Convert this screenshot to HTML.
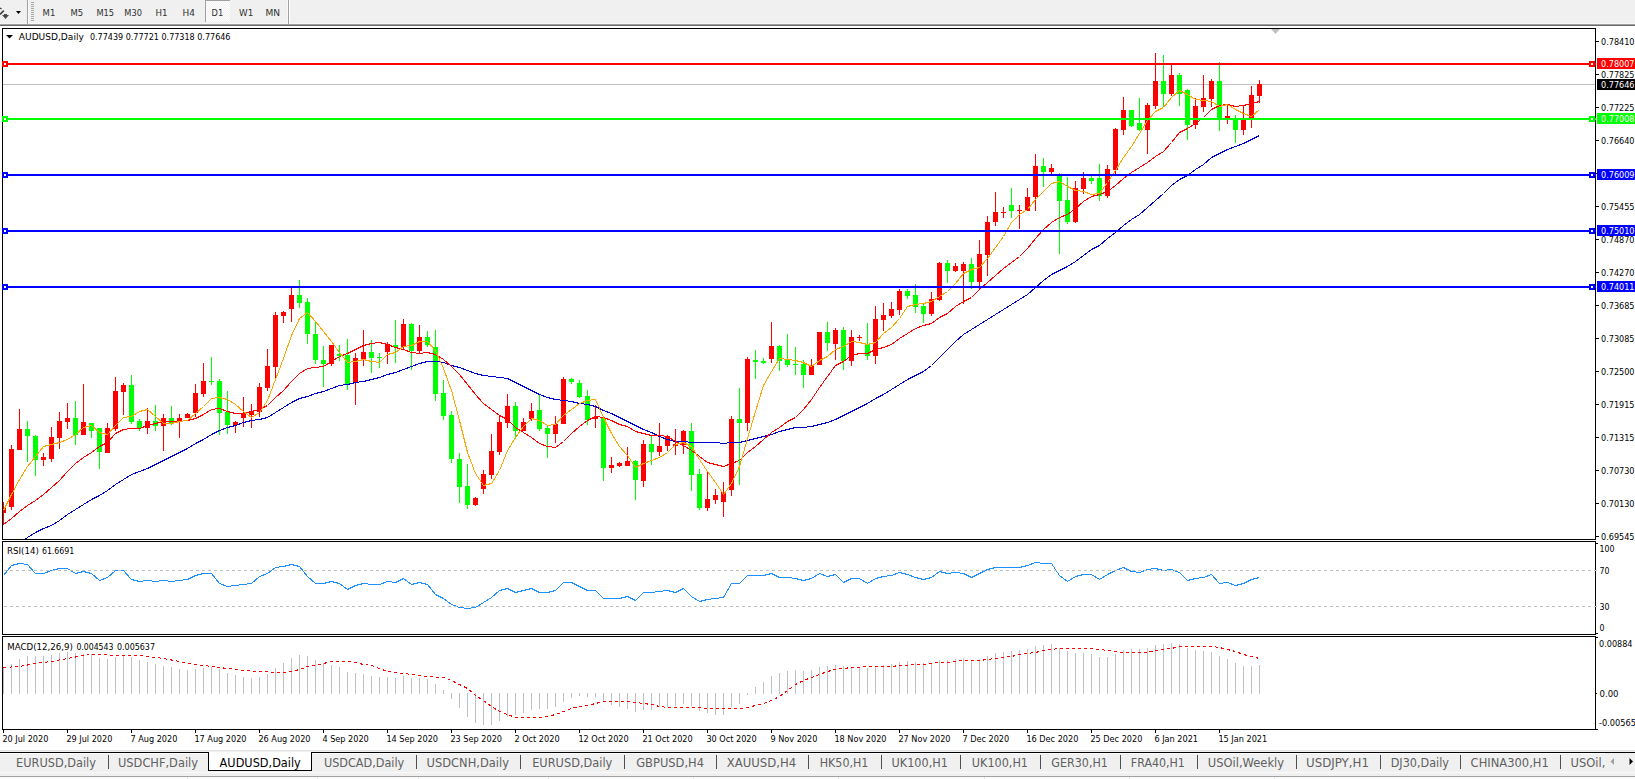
<!DOCTYPE html>
<html><head><meta charset="utf-8"><title>AUDUSD,Daily</title>
<style>html,body{margin:0;padding:0;background:#fff;}body{width:1635px;height:779px;overflow:hidden;}svg{display:block;}</style>
</head><body>
<svg width="1635" height="779" viewBox="0 0 1635 779">
<rect x="0" y="0" width="1635" height="779" fill="#ffffff"/>
<g shape-rendering="crispEdges">
<rect x="0" y="0" width="1635" height="24" fill="#f0f0f0"/>
<rect x="0" y="23" width="1635" height="1" fill="#f7f7f7"/>
<rect x="0" y="24" width="1635" height="1" fill="#a0a0a0"/>
<rect x="0" y="25" width="1635" height="1" fill="#6a6a6a"/>
<rect x="27" y="0" width="1" height="24" fill="#a0a0a0"/><rect x="28" y="0" width="1" height="24" fill="#ffffff"/>
<rect x="288" y="0" width="1" height="24" fill="#a0a0a0"/><rect x="289" y="0" width="1" height="24" fill="#ffffff"/><rect x="287" y="0" width="1" height="23" fill="#f8f8f8"/>
<rect x="31" y="2" width="3" height="1" fill="#a8a8a8"/>
<rect x="31" y="4" width="3" height="1" fill="#a8a8a8"/>
<rect x="31" y="6" width="3" height="1" fill="#a8a8a8"/>
<rect x="31" y="8" width="3" height="1" fill="#a8a8a8"/>
<rect x="31" y="10" width="3" height="1" fill="#a8a8a8"/>
<rect x="31" y="12" width="3" height="1" fill="#a8a8a8"/>
<rect x="31" y="14" width="3" height="1" fill="#a8a8a8"/>
<rect x="31" y="16" width="3" height="1" fill="#a8a8a8"/>
<rect x="31" y="18" width="3" height="1" fill="#a8a8a8"/>
<rect x="31" y="20" width="3" height="1" fill="#a8a8a8"/>
<defs><pattern id="dith" x="0" y="0" width="2" height="2" patternUnits="userSpaceOnUse"><rect width="2" height="2" fill="#f0f0f0"/><rect width="1" height="1" fill="#ffffff"/><rect x="1" y="1" width="1" height="1" fill="#ffffff"/></pattern></defs>
<rect x="206" y="1" width="24" height="21" fill="url(#dith)"/>
<rect x="205" y="0" width="25" height="1" fill="#a0a0a0"/><rect x="205" y="0" width="1" height="22" fill="#a0a0a0"/>
</g>
<path d="M0,14.5 L3.8,10.6" stroke="#3c3c3c" stroke-width="1.6" fill="none"/>
<path d="M0,8 L1.6,9" stroke="#3c3c3c" stroke-width="1.2" fill="none"/>
<path d="M2,15 L9,15 L5.5,19 Z M4,14 L7,14 L7,15 L4,15Z" fill="#4a4a4a"/>
<path d="M16,11 L21,11 L18.5,14 Z" fill="#000"/>
<text x="42.6" y="15.8" style="font-family:'DejaVu Sans','Liberation Sans',sans-serif;font-stretch:condensed;font-size:9.2px" fill="#303030" textLength="12.7" lengthAdjust="spacingAndGlyphs">M1</text>
<text x="70.5" y="15.8" style="font-family:'DejaVu Sans','Liberation Sans',sans-serif;font-stretch:condensed;font-size:9.2px" fill="#303030" textLength="12.7" lengthAdjust="spacingAndGlyphs">M5</text>
<text x="96.4" y="15.8" style="font-family:'DejaVu Sans','Liberation Sans',sans-serif;font-stretch:condensed;font-size:9.2px" fill="#303030" textLength="17.6" lengthAdjust="spacingAndGlyphs">M15</text>
<text x="124.3" y="15.8" style="font-family:'DejaVu Sans','Liberation Sans',sans-serif;font-stretch:condensed;font-size:9.2px" fill="#303030" textLength="17.6" lengthAdjust="spacingAndGlyphs">M30</text>
<text x="155.4" y="15.8" style="font-family:'DejaVu Sans','Liberation Sans',sans-serif;font-stretch:condensed;font-size:9.2px" fill="#303030" textLength="12" lengthAdjust="spacingAndGlyphs">H1</text>
<text x="182.6" y="15.8" style="font-family:'DejaVu Sans','Liberation Sans',sans-serif;font-stretch:condensed;font-size:9.2px" fill="#303030" textLength="12.4" lengthAdjust="spacingAndGlyphs">H4</text>
<text x="211.6" y="15.8" style="font-family:'DejaVu Sans','Liberation Sans',sans-serif;font-stretch:condensed;font-size:9.2px" fill="#303030" textLength="11.6" lengthAdjust="spacingAndGlyphs">D1</text>
<text x="239" y="15.8" style="font-family:'DejaVu Sans','Liberation Sans',sans-serif;font-stretch:condensed;font-size:9.2px" fill="#303030" textLength="14.2" lengthAdjust="spacingAndGlyphs">W1</text>
<text x="265.5" y="15.8" style="font-family:'DejaVu Sans','Liberation Sans',sans-serif;font-stretch:condensed;font-size:9.2px" fill="#303030" textLength="14.6" lengthAdjust="spacingAndGlyphs">MN</text>
<g shape-rendering="crispEdges" fill="none" stroke="#000" stroke-width="1">
<rect x="2.5" y="28.5" width="1593" height="511"/>
<rect x="2.5" y="541.5" width="1593" height="93"/>
<rect x="2.5" y="636.5" width="1593" height="93"/>
</g>
<defs><clipPath id="cm"><rect x="3" y="29" width="1592" height="510"/></clipPath><clipPath id="cr"><rect x="3" y="542" width="1592" height="92"/></clipPath><clipPath id="cd"><rect x="3" y="637" width="1592" height="92"/></clipPath></defs>
<g clip-path="url(#cm)">
<path d="M1271,29 L1280,29 L1275.5,34 Z" fill="#c0c0c0"/>
<rect x="3" y="84" width="1592" height="1" fill="#c0c0c0" shape-rendering="crispEdges"/>
<g shape-rendering="crispEdges">
<rect x="3" y="502" width="1" height="22" fill="#ff0000"/>
<rect x="1" y="508" width="5" height="5" fill="#ff0000"/>
<rect x="11" y="445" width="1" height="65" fill="#ff0000"/>
<rect x="9" y="449" width="5" height="58" fill="#ff0000"/>
<rect x="19" y="409" width="1" height="41" fill="#ff0000"/>
<rect x="17" y="429" width="5" height="21" fill="#ff0000"/>
<rect x="27" y="421" width="1" height="41" fill="#00ff00"/>
<rect x="25" y="429" width="5" height="7" fill="#00ff00"/>
<rect x="35" y="435" width="1" height="41" fill="#00ff00"/>
<rect x="33" y="436" width="5" height="24" fill="#00ff00"/>
<rect x="43" y="453" width="1" height="13" fill="#ff0000"/>
<rect x="41" y="457" width="5" height="3" fill="#ff0000"/>
<rect x="51" y="427" width="1" height="35" fill="#ff0000"/>
<rect x="49" y="437" width="5" height="22" fill="#ff0000"/>
<rect x="59" y="412" width="1" height="37" fill="#ff0000"/>
<rect x="57" y="421" width="5" height="17" fill="#ff0000"/>
<rect x="67" y="403" width="1" height="26" fill="#ff0000"/>
<rect x="65" y="418" width="5" height="4" fill="#ff0000"/>
<rect x="75" y="401" width="1" height="44" fill="#00ff00"/>
<rect x="73" y="418" width="5" height="17" fill="#00ff00"/>
<rect x="83" y="384" width="1" height="51" fill="#ff0000"/>
<rect x="81" y="422" width="5" height="13" fill="#ff0000"/>
<rect x="91" y="423" width="1" height="15" fill="#00ff00"/>
<rect x="89" y="423" width="5" height="8" fill="#00ff00"/>
<rect x="99" y="428" width="1" height="41" fill="#00ff00"/>
<rect x="97" y="428" width="5" height="24" fill="#00ff00"/>
<rect x="107" y="423" width="1" height="30" fill="#ff0000"/>
<rect x="105" y="428" width="5" height="25" fill="#ff0000"/>
<rect x="115" y="377" width="1" height="54" fill="#ff0000"/>
<rect x="113" y="391" width="5" height="38" fill="#ff0000"/>
<rect x="123" y="383" width="1" height="32" fill="#ff0000"/>
<rect x="121" y="385" width="5" height="7" fill="#ff0000"/>
<rect x="131" y="375" width="1" height="49" fill="#00ff00"/>
<rect x="129" y="385" width="5" height="37" fill="#00ff00"/>
<rect x="139" y="419" width="1" height="12" fill="#00ff00"/>
<rect x="137" y="421" width="5" height="7" fill="#00ff00"/>
<rect x="147" y="408" width="1" height="26" fill="#ff0000"/>
<rect x="145" y="421" width="5" height="7" fill="#ff0000"/>
<rect x="155" y="405" width="1" height="26" fill="#00ff00"/>
<rect x="153" y="421" width="5" height="5" fill="#00ff00"/>
<rect x="163" y="414" width="1" height="37" fill="#ff0000"/>
<rect x="161" y="418" width="5" height="8" fill="#ff0000"/>
<rect x="171" y="406" width="1" height="19" fill="#00ff00"/>
<rect x="169" y="418" width="5" height="5" fill="#00ff00"/>
<rect x="179" y="414" width="1" height="24" fill="#ff0000"/>
<rect x="177" y="418" width="5" height="4" fill="#ff0000"/>
<rect x="187" y="413" width="1" height="5" fill="#ff0000"/>
<rect x="185" y="414" width="5" height="4" fill="#ff0000"/>
<rect x="195" y="384" width="1" height="33" fill="#ff0000"/>
<rect x="193" y="393" width="5" height="20" fill="#ff0000"/>
<rect x="203" y="363" width="1" height="34" fill="#ff0000"/>
<rect x="201" y="381" width="5" height="13" fill="#ff0000"/>
<rect x="211" y="357" width="1" height="28" fill="#00ff00"/>
<rect x="209" y="381" width="5" height="1" fill="#00ff00"/>
<rect x="219" y="379" width="1" height="56" fill="#00ff00"/>
<rect x="217" y="381" width="5" height="32" fill="#00ff00"/>
<rect x="227" y="391" width="1" height="43" fill="#00ff00"/>
<rect x="225" y="412" width="5" height="13" fill="#00ff00"/>
<rect x="235" y="421" width="1" height="12" fill="#ff0000"/>
<rect x="233" y="422" width="5" height="3" fill="#ff0000"/>
<rect x="243" y="397" width="1" height="30" fill="#ff0000"/>
<rect x="241" y="414" width="5" height="4" fill="#ff0000"/>
<rect x="251" y="404" width="1" height="24" fill="#ff0000"/>
<rect x="249" y="411" width="5" height="4" fill="#ff0000"/>
<rect x="259" y="383" width="1" height="34" fill="#ff0000"/>
<rect x="257" y="387" width="5" height="25" fill="#ff0000"/>
<rect x="267" y="349" width="1" height="42" fill="#ff0000"/>
<rect x="265" y="366" width="5" height="22" fill="#ff0000"/>
<rect x="275" y="312" width="1" height="66" fill="#ff0000"/>
<rect x="273" y="315" width="5" height="52" fill="#ff0000"/>
<rect x="283" y="311" width="1" height="12" fill="#ff0000"/>
<rect x="281" y="312" width="5" height="4" fill="#ff0000"/>
<rect x="291" y="287" width="1" height="35" fill="#ff0000"/>
<rect x="289" y="295" width="5" height="14" fill="#ff0000"/>
<rect x="299" y="280" width="1" height="28" fill="#00ff00"/>
<rect x="297" y="295" width="5" height="8" fill="#00ff00"/>
<rect x="307" y="298" width="1" height="46" fill="#00ff00"/>
<rect x="305" y="302" width="5" height="32" fill="#00ff00"/>
<rect x="315" y="322" width="1" height="42" fill="#00ff00"/>
<rect x="313" y="334" width="5" height="26" fill="#00ff00"/>
<rect x="323" y="346" width="1" height="41" fill="#00ff00"/>
<rect x="321" y="360" width="5" height="4" fill="#00ff00"/>
<rect x="331" y="345" width="1" height="21" fill="#ff0000"/>
<rect x="329" y="345" width="5" height="19" fill="#ff0000"/>
<rect x="339" y="345" width="1" height="16" fill="#00ff00"/>
<rect x="337" y="354" width="5" height="2" fill="#00ff00"/>
<rect x="347" y="339" width="1" height="51" fill="#00ff00"/>
<rect x="345" y="355" width="5" height="29" fill="#00ff00"/>
<rect x="355" y="353" width="1" height="52" fill="#ff0000"/>
<rect x="353" y="358" width="5" height="25" fill="#ff0000"/>
<rect x="363" y="330" width="1" height="36" fill="#ff0000"/>
<rect x="361" y="352" width="5" height="7" fill="#ff0000"/>
<rect x="371" y="340" width="1" height="33" fill="#00ff00"/>
<rect x="369" y="352" width="5" height="6" fill="#00ff00"/>
<rect x="379" y="353" width="1" height="15" fill="#00ff00"/>
<rect x="377" y="357" width="5" height="1" fill="#00ff00"/>
<rect x="387" y="342" width="1" height="22" fill="#ff0000"/>
<rect x="385" y="344" width="5" height="8" fill="#ff0000"/>
<rect x="395" y="320" width="1" height="43" fill="#00ff00"/>
<rect x="393" y="345" width="5" height="2" fill="#00ff00"/>
<rect x="403" y="319" width="1" height="31" fill="#ff0000"/>
<rect x="401" y="324" width="5" height="23" fill="#ff0000"/>
<rect x="411" y="323" width="1" height="47" fill="#00ff00"/>
<rect x="409" y="324" width="5" height="27" fill="#00ff00"/>
<rect x="419" y="325" width="1" height="29" fill="#ff0000"/>
<rect x="417" y="337" width="5" height="14" fill="#ff0000"/>
<rect x="427" y="331" width="1" height="16" fill="#00ff00"/>
<rect x="425" y="337" width="5" height="8" fill="#00ff00"/>
<rect x="435" y="330" width="1" height="71" fill="#00ff00"/>
<rect x="433" y="347" width="5" height="47" fill="#00ff00"/>
<rect x="443" y="380" width="1" height="40" fill="#00ff00"/>
<rect x="441" y="393" width="5" height="23" fill="#00ff00"/>
<rect x="451" y="411" width="1" height="52" fill="#00ff00"/>
<rect x="449" y="415" width="5" height="44" fill="#00ff00"/>
<rect x="459" y="453" width="1" height="50" fill="#00ff00"/>
<rect x="457" y="459" width="5" height="28" fill="#00ff00"/>
<rect x="467" y="464" width="1" height="45" fill="#00ff00"/>
<rect x="465" y="486" width="5" height="19" fill="#00ff00"/>
<rect x="475" y="497" width="1" height="9" fill="#ff0000"/>
<rect x="473" y="498" width="5" height="7" fill="#ff0000"/>
<rect x="483" y="470" width="1" height="24" fill="#ff0000"/>
<rect x="481" y="474" width="5" height="15" fill="#ff0000"/>
<rect x="491" y="434" width="1" height="45" fill="#ff0000"/>
<rect x="489" y="451" width="5" height="24" fill="#ff0000"/>
<rect x="499" y="415" width="1" height="40" fill="#ff0000"/>
<rect x="497" y="422" width="5" height="30" fill="#ff0000"/>
<rect x="507" y="394" width="1" height="34" fill="#ff0000"/>
<rect x="505" y="406" width="5" height="17" fill="#ff0000"/>
<rect x="515" y="402" width="1" height="37" fill="#00ff00"/>
<rect x="513" y="406" width="5" height="25" fill="#00ff00"/>
<rect x="523" y="418" width="1" height="13" fill="#ff0000"/>
<rect x="521" y="422" width="5" height="9" fill="#ff0000"/>
<rect x="531" y="403" width="1" height="18" fill="#ff0000"/>
<rect x="529" y="411" width="5" height="8" fill="#ff0000"/>
<rect x="539" y="395" width="1" height="36" fill="#00ff00"/>
<rect x="537" y="410" width="5" height="19" fill="#00ff00"/>
<rect x="547" y="425" width="1" height="33" fill="#00ff00"/>
<rect x="545" y="428" width="5" height="6" fill="#00ff00"/>
<rect x="555" y="416" width="1" height="27" fill="#ff0000"/>
<rect x="553" y="424" width="5" height="10" fill="#ff0000"/>
<rect x="563" y="377" width="1" height="47" fill="#ff0000"/>
<rect x="561" y="379" width="5" height="45" fill="#ff0000"/>
<rect x="571" y="378" width="1" height="6" fill="#00ff00"/>
<rect x="569" y="379" width="5" height="3" fill="#00ff00"/>
<rect x="579" y="380" width="1" height="18" fill="#00ff00"/>
<rect x="577" y="383" width="5" height="14" fill="#00ff00"/>
<rect x="587" y="390" width="1" height="35" fill="#00ff00"/>
<rect x="585" y="396" width="5" height="24" fill="#00ff00"/>
<rect x="595" y="405" width="1" height="23" fill="#ff0000"/>
<rect x="593" y="417" width="5" height="2" fill="#ff0000"/>
<rect x="603" y="417" width="1" height="64" fill="#00ff00"/>
<rect x="601" y="418" width="5" height="50" fill="#00ff00"/>
<rect x="611" y="457" width="1" height="16" fill="#ff0000"/>
<rect x="609" y="465" width="5" height="3" fill="#ff0000"/>
<rect x="619" y="462" width="1" height="5" fill="#ff0000"/>
<rect x="617" y="463" width="5" height="3" fill="#ff0000"/>
<rect x="627" y="447" width="1" height="19" fill="#ff0000"/>
<rect x="625" y="461" width="5" height="5" fill="#ff0000"/>
<rect x="635" y="460" width="1" height="40" fill="#00ff00"/>
<rect x="633" y="461" width="5" height="19" fill="#00ff00"/>
<rect x="643" y="440" width="1" height="47" fill="#ff0000"/>
<rect x="641" y="444" width="5" height="37" fill="#ff0000"/>
<rect x="651" y="435" width="1" height="30" fill="#00ff00"/>
<rect x="649" y="444" width="5" height="8" fill="#00ff00"/>
<rect x="659" y="423" width="1" height="33" fill="#ff0000"/>
<rect x="657" y="446" width="5" height="6" fill="#ff0000"/>
<rect x="667" y="435" width="1" height="16" fill="#ff0000"/>
<rect x="665" y="436" width="5" height="10" fill="#ff0000"/>
<rect x="675" y="429" width="1" height="26" fill="#ff0000"/>
<rect x="673" y="444" width="5" height="2" fill="#ff0000"/>
<rect x="683" y="430" width="1" height="24" fill="#ff0000"/>
<rect x="681" y="431" width="5" height="14" fill="#ff0000"/>
<rect x="691" y="423" width="1" height="68" fill="#00ff00"/>
<rect x="689" y="431" width="5" height="44" fill="#00ff00"/>
<rect x="699" y="469" width="1" height="41" fill="#00ff00"/>
<rect x="697" y="474" width="5" height="34" fill="#00ff00"/>
<rect x="707" y="472" width="1" height="39" fill="#ff0000"/>
<rect x="705" y="499" width="5" height="9" fill="#ff0000"/>
<rect x="715" y="489" width="1" height="15" fill="#ff0000"/>
<rect x="713" y="495" width="5" height="5" fill="#ff0000"/>
<rect x="723" y="482" width="1" height="35" fill="#ff0000"/>
<rect x="721" y="492" width="5" height="10" fill="#ff0000"/>
<rect x="731" y="416" width="1" height="80" fill="#ff0000"/>
<rect x="729" y="419" width="5" height="71" fill="#ff0000"/>
<rect x="739" y="388" width="1" height="97" fill="#00ff00"/>
<rect x="737" y="419" width="5" height="4" fill="#00ff00"/>
<rect x="747" y="357" width="1" height="74" fill="#ff0000"/>
<rect x="745" y="359" width="5" height="64" fill="#ff0000"/>
<rect x="755" y="350" width="1" height="29" fill="#00ff00"/>
<rect x="753" y="360" width="5" height="2" fill="#00ff00"/>
<rect x="763" y="358" width="1" height="6" fill="#00ff00"/>
<rect x="761" y="361" width="5" height="2" fill="#00ff00"/>
<rect x="771" y="322" width="1" height="41" fill="#ff0000"/>
<rect x="769" y="346" width="5" height="13" fill="#ff0000"/>
<rect x="779" y="345" width="1" height="26" fill="#00ff00"/>
<rect x="777" y="346" width="5" height="15" fill="#00ff00"/>
<rect x="787" y="334" width="1" height="33" fill="#00ff00"/>
<rect x="785" y="360" width="5" height="5" fill="#00ff00"/>
<rect x="795" y="347" width="1" height="28" fill="#00ff00"/>
<rect x="793" y="364" width="5" height="1" fill="#00ff00"/>
<rect x="803" y="360" width="1" height="28" fill="#00ff00"/>
<rect x="801" y="364" width="5" height="11" fill="#00ff00"/>
<rect x="811" y="359" width="1" height="16" fill="#ff0000"/>
<rect x="809" y="365" width="5" height="10" fill="#ff0000"/>
<rect x="819" y="332" width="1" height="33" fill="#ff0000"/>
<rect x="817" y="332" width="5" height="33" fill="#ff0000"/>
<rect x="827" y="322" width="1" height="29" fill="#00ff00"/>
<rect x="825" y="332" width="5" height="11" fill="#00ff00"/>
<rect x="835" y="328" width="1" height="32" fill="#ff0000"/>
<rect x="833" y="330" width="5" height="14" fill="#ff0000"/>
<rect x="843" y="327" width="1" height="43" fill="#00ff00"/>
<rect x="841" y="330" width="5" height="31" fill="#00ff00"/>
<rect x="851" y="330" width="1" height="36" fill="#ff0000"/>
<rect x="849" y="337" width="5" height="24" fill="#ff0000"/>
<rect x="859" y="335" width="1" height="6" fill="#ff0000"/>
<rect x="857" y="337" width="5" height="1" fill="#ff0000"/>
<rect x="867" y="323" width="1" height="37" fill="#00ff00"/>
<rect x="865" y="344" width="5" height="12" fill="#00ff00"/>
<rect x="875" y="306" width="1" height="58" fill="#ff0000"/>
<rect x="873" y="319" width="5" height="37" fill="#ff0000"/>
<rect x="883" y="303" width="1" height="28" fill="#ff0000"/>
<rect x="881" y="315" width="5" height="5" fill="#ff0000"/>
<rect x="891" y="302" width="1" height="16" fill="#ff0000"/>
<rect x="889" y="309" width="5" height="7" fill="#ff0000"/>
<rect x="899" y="289" width="1" height="26" fill="#ff0000"/>
<rect x="897" y="291" width="5" height="19" fill="#ff0000"/>
<rect x="907" y="289" width="1" height="10" fill="#00ff00"/>
<rect x="905" y="291" width="5" height="5" fill="#00ff00"/>
<rect x="915" y="284" width="1" height="29" fill="#00ff00"/>
<rect x="913" y="295" width="5" height="12" fill="#00ff00"/>
<rect x="923" y="304" width="1" height="19" fill="#00ff00"/>
<rect x="921" y="306" width="5" height="8" fill="#00ff00"/>
<rect x="931" y="292" width="1" height="24" fill="#ff0000"/>
<rect x="929" y="299" width="5" height="15" fill="#ff0000"/>
<rect x="939" y="262" width="1" height="39" fill="#ff0000"/>
<rect x="937" y="263" width="5" height="37" fill="#ff0000"/>
<rect x="947" y="260" width="1" height="23" fill="#00ff00"/>
<rect x="945" y="263" width="5" height="8" fill="#00ff00"/>
<rect x="955" y="263" width="1" height="9" fill="#ff0000"/>
<rect x="953" y="266" width="5" height="5" fill="#ff0000"/>
<rect x="963" y="262" width="1" height="42" fill="#ff0000"/>
<rect x="961" y="264" width="5" height="7" fill="#ff0000"/>
<rect x="971" y="258" width="1" height="31" fill="#00ff00"/>
<rect x="969" y="264" width="5" height="18" fill="#00ff00"/>
<rect x="979" y="240" width="1" height="49" fill="#ff0000"/>
<rect x="977" y="254" width="5" height="28" fill="#ff0000"/>
<rect x="987" y="216" width="1" height="60" fill="#ff0000"/>
<rect x="985" y="222" width="5" height="33" fill="#ff0000"/>
<rect x="995" y="192" width="1" height="34" fill="#ff0000"/>
<rect x="993" y="212" width="5" height="10" fill="#ff0000"/>
<rect x="1003" y="207" width="1" height="11" fill="#ff0000"/>
<rect x="1001" y="212" width="5" height="1" fill="#ff0000"/>
<rect x="1011" y="188" width="1" height="30" fill="#00ff00"/>
<rect x="1009" y="205" width="5" height="6" fill="#00ff00"/>
<rect x="1019" y="205" width="1" height="24" fill="#ff0000"/>
<rect x="1017" y="210" width="5" height="1" fill="#ff0000"/>
<rect x="1027" y="188" width="1" height="23" fill="#ff0000"/>
<rect x="1025" y="197" width="5" height="14" fill="#ff0000"/>
<rect x="1035" y="154" width="1" height="57" fill="#ff0000"/>
<rect x="1033" y="166" width="5" height="31" fill="#ff0000"/>
<rect x="1043" y="158" width="1" height="29" fill="#00ff00"/>
<rect x="1041" y="166" width="5" height="6" fill="#00ff00"/>
<rect x="1051" y="164" width="1" height="10" fill="#ff0000"/>
<rect x="1049" y="168" width="5" height="4" fill="#ff0000"/>
<rect x="1059" y="173" width="1" height="81" fill="#00ff00"/>
<rect x="1057" y="176" width="5" height="25" fill="#00ff00"/>
<rect x="1067" y="177" width="1" height="47" fill="#00ff00"/>
<rect x="1065" y="200" width="5" height="22" fill="#00ff00"/>
<rect x="1075" y="181" width="1" height="42" fill="#ff0000"/>
<rect x="1073" y="188" width="5" height="34" fill="#ff0000"/>
<rect x="1083" y="172" width="1" height="22" fill="#ff0000"/>
<rect x="1081" y="178" width="5" height="11" fill="#ff0000"/>
<rect x="1091" y="176" width="1" height="8" fill="#00ff00"/>
<rect x="1089" y="178" width="5" height="3" fill="#00ff00"/>
<rect x="1099" y="164" width="1" height="37" fill="#00ff00"/>
<rect x="1097" y="178" width="5" height="18" fill="#00ff00"/>
<rect x="1107" y="165" width="1" height="33" fill="#ff0000"/>
<rect x="1105" y="169" width="5" height="27" fill="#ff0000"/>
<rect x="1115" y="128" width="1" height="46" fill="#ff0000"/>
<rect x="1113" y="129" width="5" height="41" fill="#ff0000"/>
<rect x="1123" y="97" width="1" height="38" fill="#ff0000"/>
<rect x="1121" y="110" width="5" height="20" fill="#ff0000"/>
<rect x="1131" y="110" width="1" height="17" fill="#00ff00"/>
<rect x="1129" y="110" width="5" height="16" fill="#00ff00"/>
<rect x="1139" y="98" width="1" height="33" fill="#00ff00"/>
<rect x="1137" y="123" width="5" height="7" fill="#00ff00"/>
<rect x="1147" y="103" width="1" height="51" fill="#ff0000"/>
<rect x="1145" y="105" width="5" height="25" fill="#ff0000"/>
<rect x="1155" y="53" width="1" height="56" fill="#ff0000"/>
<rect x="1153" y="81" width="5" height="25" fill="#ff0000"/>
<rect x="1163" y="55" width="1" height="52" fill="#00ff00"/>
<rect x="1161" y="81" width="5" height="13" fill="#00ff00"/>
<rect x="1171" y="65" width="1" height="31" fill="#ff0000"/>
<rect x="1169" y="75" width="5" height="19" fill="#ff0000"/>
<rect x="1179" y="73" width="1" height="33" fill="#00ff00"/>
<rect x="1177" y="75" width="5" height="19" fill="#00ff00"/>
<rect x="1187" y="89" width="1" height="51" fill="#00ff00"/>
<rect x="1185" y="90" width="5" height="35" fill="#00ff00"/>
<rect x="1195" y="98" width="1" height="31" fill="#ff0000"/>
<rect x="1193" y="106" width="5" height="19" fill="#ff0000"/>
<rect x="1203" y="75" width="1" height="37" fill="#ff0000"/>
<rect x="1201" y="98" width="5" height="9" fill="#ff0000"/>
<rect x="1211" y="79" width="1" height="28" fill="#ff0000"/>
<rect x="1209" y="81" width="5" height="18" fill="#ff0000"/>
<rect x="1219" y="62" width="1" height="69" fill="#00ff00"/>
<rect x="1217" y="81" width="5" height="37" fill="#00ff00"/>
<rect x="1227" y="104" width="1" height="20" fill="#ff0000"/>
<rect x="1225" y="116" width="5" height="2" fill="#ff0000"/>
<rect x="1235" y="115" width="1" height="28" fill="#00ff00"/>
<rect x="1233" y="120" width="5" height="10" fill="#00ff00"/>
<rect x="1243" y="106" width="1" height="29" fill="#ff0000"/>
<rect x="1241" y="120" width="5" height="10" fill="#ff0000"/>
<rect x="1251" y="86" width="1" height="42" fill="#ff0000"/>
<rect x="1249" y="95" width="5" height="23" fill="#ff0000"/>
<rect x="1259" y="80" width="1" height="23" fill="#ff0000"/>
<rect x="1257" y="84" width="5" height="12" fill="#ff0000"/>
</g>
<polyline points="-4.5,546.5 3.5,543.5 11.5,541.5 19.5,540.5 24.4,539.5 27.5,537.5 35.5,532.5 43.5,528.5 51.5,525.5 59.5,520.5 67.5,514.5 75.5,509.5 83.5,504.5 91.5,499.5 99.5,495.5 107.5,490.5 115.5,484.5 123.5,479.5 131.5,474.5 139.5,471.5 147.5,468.5 155.5,464.5 163.5,460.5 171.5,456.5 179.5,452.5 187.5,448.5 195.5,443.5 203.5,439.5 211.5,434.5 219.5,430.5 227.5,427.5 235.5,425.5 243.5,422.5 251.5,420.5 259.5,419.5 267.5,417.5 275.5,412.5 283.5,407.5 291.5,402.5 299.5,398.5 307.5,396.5 315.5,393.5 323.5,391.5 331.5,388.5 339.5,385.5 347.5,384.5 355.5,382.5 363.5,381.5 371.5,379.5 379.5,377.5 387.5,374.5 395.5,372.5 403.5,369.5 411.5,366.5 419.5,363.5 427.5,361.5 435.5,361.5 443.5,362.5 451.5,365.5 459.5,367.5 467.5,370.5 475.5,373.5 483.5,375.5 491.5,376.5 499.5,377.5 507.5,378.5 515.5,382.5 523.5,386.5 531.5,390.5 539.5,394.5 547.5,397.5 555.5,399.5 563.5,400.5 571.5,401.5 579.5,403.5 587.5,404.5 595.5,406.5 603.5,410.5 611.5,413.5 619.5,417.5 627.5,421.5 635.5,425.5 643.5,429.5 651.5,432.5 659.5,436.5 667.5,439.5 675.5,441.5 683.5,441.5 691.5,442.5 699.5,442.5 707.5,442.5 715.5,442.5 723.5,443.5 731.5,442.5 739.5,442.5 747.5,440.5 755.5,438.5 763.5,436.5 771.5,434.5 779.5,431.5 787.5,429.5 795.5,427.5 803.5,427.5 811.5,426.5 819.5,424.5 827.5,422.5 835.5,419.5 843.5,415.5 851.5,411.5 859.5,407.5 867.5,403.5 875.5,398.5 883.5,394.5 891.5,389.5 899.5,384.5 907.5,379.5 915.5,375.5 923.5,371.5 931.5,365.5 939.5,357.5 947.5,349.5 955.5,341.5 963.5,334.5 971.5,329.5 979.5,324.5 987.5,319.5 995.5,314.5 1003.5,309.5 1011.5,304.5 1019.5,299.5 1027.5,294.5 1035.5,287.5 1043.5,280.5 1051.5,274.5 1059.5,270.5 1067.5,266.5 1075.5,261.5 1083.5,255.5 1091.5,249.5 1099.5,245.5 1107.5,238.5 1115.5,232.5 1123.5,225.5 1131.5,219.5 1139.5,214.5 1147.5,207.5 1155.5,200.5 1163.5,193.5 1171.5,185.5 1179.5,179.5 1187.5,175.5 1195.5,169.5 1203.5,164.5 1211.5,157.5 1219.5,153.5 1227.5,149.5 1235.5,146.5 1243.5,143.5 1251.5,139.5 1259.5,135.5" fill="none" stroke="#0000cd" stroke-width="1" shape-rendering="crispEdges"/>
<polyline points="3.5,524.5 11.5,518.5 19.5,511.5 27.5,505.5 35.5,500.5 43.5,494.5 51.5,487.5 59.5,480.5 67.5,471.5 75.5,463.5 83.5,457.5 91.5,452.5 99.5,446.5 107.5,442.5 115.5,433.5 123.5,429.5 131.5,428.5 139.5,428.5 147.5,425.5 155.5,423.5 163.5,421.5 171.5,421.5 179.5,421.5 187.5,420.5 195.5,418.5 203.5,414.5 211.5,409.5 219.5,408.5 227.5,411.5 235.5,413.5 243.5,413.5 251.5,411.5 259.5,409.5 267.5,405.5 275.5,397.5 283.5,390.5 291.5,381.5 299.5,373.5 307.5,368.5 315.5,367.5 323.5,366.5 331.5,361.5 339.5,356.5 347.5,353.5 355.5,349.5 363.5,345.5 371.5,343.5 379.5,342.5 387.5,344.5 395.5,347.5 403.5,349.5 411.5,352.5 419.5,353.5 427.5,352.5 435.5,354.5 443.5,359.5 451.5,366.5 459.5,374.5 467.5,384.5 475.5,394.5 483.5,403.5 491.5,409.5 499.5,415.5 507.5,419.5 515.5,427.5 523.5,432.5 531.5,437.5 539.5,443.5 547.5,446.5 555.5,447.5 563.5,441.5 571.5,433.5 579.5,426.5 587.5,420.5 595.5,416.5 603.5,417.5 611.5,420.5 619.5,424.5 627.5,426.5 635.5,431.5 643.5,433.5 651.5,435.5 659.5,435.5 667.5,436.5 675.5,441.5 683.5,445.5 691.5,450.5 699.5,456.5 707.5,462.5 715.5,464.5 723.5,466.5 731.5,463.5 739.5,460.5 747.5,452.5 755.5,446.5 763.5,439.5 771.5,432.5 779.5,427.5 787.5,421.5 795.5,417.5 803.5,409.5 811.5,399.5 819.5,387.5 827.5,376.5 835.5,365.5 843.5,361.5 851.5,355.5 859.5,353.5 867.5,353.5 875.5,349.5 883.5,347.5 891.5,344.5 899.5,338.5 907.5,333.5 915.5,328.5 923.5,325.5 931.5,323.5 939.5,317.5 947.5,313.5 955.5,306.5 963.5,301.5 971.5,297.5 979.5,289.5 987.5,282.5 995.5,275.5 1003.5,268.5 1011.5,262.5 1019.5,256.5 1027.5,248.5 1035.5,238.5 1043.5,229.5 1051.5,222.5 1059.5,217.5 1067.5,214.5 1075.5,208.5 1083.5,201.5 1091.5,196.5 1099.5,194.5 1107.5,191.5 1115.5,185.5 1123.5,178.5 1131.5,172.5 1139.5,167.5 1147.5,162.5 1155.5,156.5 1163.5,151.5 1171.5,142.5 1179.5,132.5 1187.5,128.5 1195.5,123.5 1203.5,117.5 1211.5,109.5 1219.5,105.5 1227.5,104.5 1235.5,106.5 1243.5,105.5 1251.5,103.5 1259.5,101.5" fill="none" stroke="#ff0000" stroke-width="1" shape-rendering="crispEdges"/>
<polyline points="3.5,510.5 11.5,494.5 19.5,479.5 27.5,466.5 35.5,456.5 43.5,446.5 51.5,444.5 59.5,442.5 67.5,439.5 75.5,434.5 83.5,427.5 91.5,425.5 99.5,432.5 107.5,434.5 115.5,425.5 123.5,417.5 131.5,416.5 139.5,411.5 147.5,409.5 155.5,416.5 163.5,423.5 171.5,423.5 179.5,421.5 187.5,420.5 195.5,413.5 203.5,406.5 211.5,398.5 219.5,397.5 227.5,399.5 235.5,404.5 243.5,411.5 251.5,417.5 259.5,412.5 267.5,400.5 275.5,379.5 283.5,358.5 291.5,335.5 299.5,318.5 307.5,312.5 315.5,321.5 323.5,331.5 331.5,341.5 339.5,352.5 347.5,362.5 355.5,361.5 363.5,359.5 371.5,361.5 379.5,362.5 387.5,354.5 395.5,352.5 403.5,346.5 411.5,345.5 419.5,341.5 427.5,341.5 435.5,350.5 443.5,368.5 451.5,390.5 459.5,420.5 467.5,452.5 475.5,473.5 483.5,485.5 491.5,483.5 499.5,470.5 507.5,450.5 515.5,437.5 523.5,426.5 531.5,418.5 539.5,420.5 547.5,425.5 555.5,424.5 563.5,415.5 571.5,409.5 579.5,403.5 587.5,400.5 595.5,399.5 603.5,417.5 611.5,433.5 619.5,446.5 627.5,455.5 635.5,467.5 643.5,463.5 651.5,460.5 659.5,457.5 667.5,452.5 675.5,444.5 683.5,442.5 691.5,446.5 699.5,459.5 707.5,471.5 715.5,482.5 723.5,494.5 731.5,483.5 739.5,466.5 747.5,438.5 755.5,411.5 763.5,385.5 771.5,371.5 779.5,358.5 787.5,359.5 795.5,360.5 803.5,362.5 811.5,366.5 819.5,360.5 827.5,356.5 835.5,349.5 843.5,346.5 851.5,341.5 859.5,342.5 867.5,344.5 875.5,342.5 883.5,333.5 891.5,327.5 899.5,318.5 907.5,306.5 915.5,304.5 923.5,303.5 931.5,301.5 939.5,296.5 947.5,291.5 955.5,283.5 963.5,273.5 971.5,269.5 979.5,267.5 987.5,258.5 995.5,247.5 1003.5,236.5 1011.5,222.5 1019.5,214.5 1027.5,209.5 1035.5,199.5 1043.5,191.5 1051.5,183.5 1059.5,181.5 1067.5,186.5 1075.5,190.5 1083.5,191.5 1091.5,194.5 1099.5,193.5 1107.5,182.5 1115.5,170.5 1123.5,157.5 1131.5,146.5 1139.5,133.5 1147.5,120.5 1155.5,111.5 1163.5,107.5 1171.5,97.5 1179.5,90.5 1187.5,94.5 1195.5,99.5 1203.5,100.5 1211.5,101.5 1219.5,106.5 1227.5,104.5 1235.5,109.5 1243.5,113.5 1251.5,116.5 1259.5,109.5" fill="none" stroke="#ffa500" stroke-width="1" shape-rendering="crispEdges"/>
</g>
<g shape-rendering="crispEdges">
<rect x="3" y="63" width="1593" height="2" fill="#ff0000"/>
<rect x="2" y="61" width="6" height="6" fill="#ff0000"/><rect x="4" y="63" width="2" height="2" fill="#fff"/>
<rect x="1589" y="61" width="6" height="6" fill="#ff0000"/><rect x="1591" y="63" width="2" height="2" fill="#fff"/>
<rect x="3" y="118" width="1593" height="2" fill="#00ff00"/>
<rect x="2" y="116" width="6" height="6" fill="#00ff00"/><rect x="4" y="118" width="2" height="2" fill="#fff"/>
<rect x="1589" y="116" width="6" height="6" fill="#00ff00"/><rect x="1591" y="118" width="2" height="2" fill="#fff"/>
<rect x="3" y="174" width="1593" height="2" fill="#0000ff"/>
<rect x="2" y="172" width="6" height="6" fill="#0000ff"/><rect x="4" y="174" width="2" height="2" fill="#fff"/>
<rect x="1589" y="172" width="6" height="6" fill="#0000ff"/><rect x="1591" y="174" width="2" height="2" fill="#fff"/>
<rect x="3" y="230" width="1593" height="2" fill="#0000ff"/>
<rect x="2" y="228" width="6" height="6" fill="#0000ff"/><rect x="4" y="230" width="2" height="2" fill="#fff"/>
<rect x="1589" y="228" width="6" height="6" fill="#0000ff"/><rect x="1591" y="230" width="2" height="2" fill="#fff"/>
<rect x="3" y="286" width="1593" height="2" fill="#0000ff"/>
<rect x="2" y="284" width="6" height="6" fill="#0000ff"/><rect x="4" y="286" width="2" height="2" fill="#fff"/>
<rect x="1589" y="284" width="6" height="6" fill="#0000ff"/><rect x="1591" y="286" width="2" height="2" fill="#fff"/>
</g>
<path d="M6,35 L13,35 L9.5,38.5 Z" fill="#000"/>
<text x="18.8" y="40" style="font-family:'DejaVu Sans','Liberation Sans',sans-serif;font-stretch:condensed;font-size:9.2px;" fill="#000" textLength="65" lengthAdjust="spacingAndGlyphs">AUDUSD,Daily</text>
<text x="89.9" y="40" style="font-family:'DejaVu Sans','Liberation Sans',sans-serif;font-stretch:condensed;font-size:9.2px;" fill="#000" textLength="140.6" lengthAdjust="spacingAndGlyphs">0.77439 0.77721 0.77318 0.77646</text>
<g shape-rendering="crispEdges">
<rect x="1596" y="41" width="3" height="1" fill="#000"/>
<rect x="1596" y="74" width="3" height="1" fill="#000"/>
<rect x="1596" y="107" width="3" height="1" fill="#000"/>
<rect x="1596" y="140" width="3" height="1" fill="#000"/>
<rect x="1596" y="173" width="3" height="1" fill="#000"/>
<rect x="1596" y="206" width="3" height="1" fill="#000"/>
<rect x="1596" y="239" width="3" height="1" fill="#000"/>
<rect x="1596" y="272" width="3" height="1" fill="#000"/>
<rect x="1596" y="305" width="3" height="1" fill="#000"/>
<rect x="1596" y="338" width="3" height="1" fill="#000"/>
<rect x="1596" y="371" width="3" height="1" fill="#000"/>
<rect x="1596" y="404" width="3" height="1" fill="#000"/>
<rect x="1596" y="437" width="3" height="1" fill="#000"/>
<rect x="1596" y="470" width="3" height="1" fill="#000"/>
<rect x="1596" y="503" width="3" height="1" fill="#000"/>
<rect x="1596" y="536" width="3" height="1" fill="#000"/>
</g>
<text x="1601" y="45" style="font-family:'DejaVu Sans','Liberation Sans',sans-serif;font-stretch:condensed;font-size:9.2px;" fill="#000" textLength="33.5" lengthAdjust="spacingAndGlyphs">0.78410</text>
<text x="1601" y="78" style="font-family:'DejaVu Sans','Liberation Sans',sans-serif;font-stretch:condensed;font-size:9.2px;" fill="#000" textLength="33.5" lengthAdjust="spacingAndGlyphs">0.77825</text>
<text x="1601" y="111" style="font-family:'DejaVu Sans','Liberation Sans',sans-serif;font-stretch:condensed;font-size:9.2px;" fill="#000" textLength="33.5" lengthAdjust="spacingAndGlyphs">0.77225</text>
<text x="1601" y="144" style="font-family:'DejaVu Sans','Liberation Sans',sans-serif;font-stretch:condensed;font-size:9.2px;" fill="#000" textLength="33.5" lengthAdjust="spacingAndGlyphs">0.76640</text>
<text x="1601" y="177" style="font-family:'DejaVu Sans','Liberation Sans',sans-serif;font-stretch:condensed;font-size:9.2px;" fill="#000" textLength="33.5" lengthAdjust="spacingAndGlyphs">0.76055</text>
<text x="1601" y="210" style="font-family:'DejaVu Sans','Liberation Sans',sans-serif;font-stretch:condensed;font-size:9.2px;" fill="#000" textLength="33.5" lengthAdjust="spacingAndGlyphs">0.75455</text>
<text x="1601" y="243" style="font-family:'DejaVu Sans','Liberation Sans',sans-serif;font-stretch:condensed;font-size:9.2px;" fill="#000" textLength="33.5" lengthAdjust="spacingAndGlyphs">0.74870</text>
<text x="1601" y="276" style="font-family:'DejaVu Sans','Liberation Sans',sans-serif;font-stretch:condensed;font-size:9.2px;" fill="#000" textLength="33.5" lengthAdjust="spacingAndGlyphs">0.74270</text>
<text x="1601" y="309" style="font-family:'DejaVu Sans','Liberation Sans',sans-serif;font-stretch:condensed;font-size:9.2px;" fill="#000" textLength="33.5" lengthAdjust="spacingAndGlyphs">0.73685</text>
<text x="1601" y="342" style="font-family:'DejaVu Sans','Liberation Sans',sans-serif;font-stretch:condensed;font-size:9.2px;" fill="#000" textLength="33.5" lengthAdjust="spacingAndGlyphs">0.73085</text>
<text x="1601" y="375" style="font-family:'DejaVu Sans','Liberation Sans',sans-serif;font-stretch:condensed;font-size:9.2px;" fill="#000" textLength="33.5" lengthAdjust="spacingAndGlyphs">0.72500</text>
<text x="1601" y="408" style="font-family:'DejaVu Sans','Liberation Sans',sans-serif;font-stretch:condensed;font-size:9.2px;" fill="#000" textLength="33.5" lengthAdjust="spacingAndGlyphs">0.71915</text>
<text x="1601" y="441" style="font-family:'DejaVu Sans','Liberation Sans',sans-serif;font-stretch:condensed;font-size:9.2px;" fill="#000" textLength="33.5" lengthAdjust="spacingAndGlyphs">0.71315</text>
<text x="1601" y="474" style="font-family:'DejaVu Sans','Liberation Sans',sans-serif;font-stretch:condensed;font-size:9.2px;" fill="#000" textLength="33.5" lengthAdjust="spacingAndGlyphs">0.70730</text>
<text x="1601" y="507" style="font-family:'DejaVu Sans','Liberation Sans',sans-serif;font-stretch:condensed;font-size:9.2px;" fill="#000" textLength="33.5" lengthAdjust="spacingAndGlyphs">0.70130</text>
<text x="1601" y="540" style="font-family:'DejaVu Sans','Liberation Sans',sans-serif;font-stretch:condensed;font-size:9.2px;" fill="#000" textLength="33.5" lengthAdjust="spacingAndGlyphs">0.69545</text>
<rect x="1597" y="58" width="38" height="11" fill="#ff0000" shape-rendering="crispEdges"/>
<text x="1601" y="67" style="font-family:'DejaVu Sans','Liberation Sans',sans-serif;font-stretch:condensed;font-size:9.2px;" fill="#fff" textLength="33.5" lengthAdjust="spacingAndGlyphs">0.78007</text>
<rect x="1597" y="79" width="38" height="11" fill="#000000" shape-rendering="crispEdges"/>
<text x="1601" y="88" style="font-family:'DejaVu Sans','Liberation Sans',sans-serif;font-stretch:condensed;font-size:9.2px;" fill="#fff" textLength="33.5" lengthAdjust="spacingAndGlyphs">0.77646</text>
<rect x="1597" y="113" width="38" height="11" fill="#00ff00" shape-rendering="crispEdges"/>
<text x="1601" y="122" style="font-family:'DejaVu Sans','Liberation Sans',sans-serif;font-stretch:condensed;font-size:9.2px;" fill="#fff" textLength="33.5" lengthAdjust="spacingAndGlyphs">0.77008</text>
<rect x="1597" y="169" width="38" height="11" fill="#0000ff" shape-rendering="crispEdges"/>
<text x="1601" y="178" style="font-family:'DejaVu Sans','Liberation Sans',sans-serif;font-stretch:condensed;font-size:9.2px;" fill="#fff" textLength="33.5" lengthAdjust="spacingAndGlyphs">0.76009</text>
<rect x="1597" y="225" width="38" height="11" fill="#0000ff" shape-rendering="crispEdges"/>
<text x="1601" y="234" style="font-family:'DejaVu Sans','Liberation Sans',sans-serif;font-stretch:condensed;font-size:9.2px;" fill="#fff" textLength="33.5" lengthAdjust="spacingAndGlyphs">0.75010</text>
<rect x="1597" y="281" width="38" height="11" fill="#0000ff" shape-rendering="crispEdges"/>
<text x="1601" y="290" style="font-family:'DejaVu Sans','Liberation Sans',sans-serif;font-stretch:condensed;font-size:9.2px;" fill="#fff" textLength="33.5" lengthAdjust="spacingAndGlyphs">0.74011</text>
<g clip-path="url(#cr)">
<g shape-rendering="crispEdges">
</g>
<polyline points="3.5,575.5 11.5,565.5 19.5,563.5 27.5,564.5 35.5,573.5 43.5,573.5 51.5,570.5 59.5,568.5 67.5,568.5 75.5,573.5 83.5,571.5 91.5,573.5 99.5,580.5 107.5,577.5 115.5,570.5 123.5,570.5 131.5,579.5 139.5,581.5 147.5,580.5 155.5,581.5 163.5,580.5 171.5,581.5 179.5,580.5 187.5,579.5 195.5,575.5 203.5,573.5 211.5,573.5 219.5,583.5 227.5,586.5 235.5,585.5 243.5,584.5 251.5,583.5 259.5,576.5 267.5,573.5 275.5,567.5 283.5,566.5 291.5,564.5 299.5,566.5 307.5,576.5 315.5,583.5 323.5,583.5 331.5,581.5 339.5,583.5 347.5,589.5 355.5,585.5 363.5,583.5 371.5,584.5 379.5,584.5 387.5,581.5 395.5,582.5 403.5,578.5 411.5,584.5 419.5,582.5 427.5,584.5 435.5,594.5 443.5,598.5 451.5,604.5 459.5,607.5 467.5,608.5 475.5,607.5 483.5,602.5 491.5,597.5 499.5,590.5 507.5,588.5 515.5,592.5 523.5,590.5 531.5,588.5 539.5,592.5 547.5,592.5 555.5,590.5 563.5,582.5 571.5,582.5 579.5,586.5 587.5,590.5 595.5,590.5 603.5,598.5 611.5,598.5 619.5,598.5 627.5,596.5 635.5,600.5 643.5,592.5 651.5,592.5 659.5,591.5 667.5,590.5 675.5,592.5 683.5,588.5 691.5,596.5 699.5,601.5 707.5,599.5 715.5,598.5 723.5,597.5 731.5,583.5 739.5,583.5 747.5,575.5 755.5,575.5 763.5,575.5 771.5,573.5 779.5,577.5 787.5,577.5 795.5,578.5 803.5,580.5 811.5,578.5 819.5,573.5 827.5,576.5 835.5,574.5 843.5,582.5 851.5,578.5 859.5,578.5 867.5,583.5 875.5,578.5 883.5,576.5 891.5,575.5 899.5,572.5 907.5,574.5 915.5,577.5 923.5,579.5 931.5,577.5 939.5,571.5 947.5,573.5 955.5,572.5 963.5,573.5 971.5,577.5 979.5,573.5 987.5,569.5 995.5,567.5 1003.5,567.5 1011.5,567.5 1019.5,567.5 1027.5,565.5 1035.5,562.5 1043.5,563.5 1051.5,563.5 1059.5,575.5 1067.5,581.5 1075.5,576.5 1083.5,574.5 1091.5,574.5 1099.5,579.5 1107.5,574.5 1115.5,570.5 1123.5,567.5 1131.5,571.5 1139.5,572.5 1147.5,569.5 1155.5,568.5 1163.5,570.5 1171.5,569.5 1179.5,572.5 1187.5,580.5 1195.5,578.5 1203.5,577.5 1211.5,574.5 1219.5,583.5 1227.5,582.5 1235.5,585.5 1243.5,583.5 1251.5,579.5 1259.5,577.5" fill="none" stroke="#1e90ff" stroke-width="1" shape-rendering="crispEdges"/>
</g>
<text x="7" y="554" style="font-family:'DejaVu Sans','Liberation Sans',sans-serif;font-stretch:condensed;font-size:9.2px;" fill="#000" textLength="31.8" lengthAdjust="spacingAndGlyphs">RSI(14)</text>
<text x="41.9" y="554" style="font-family:'DejaVu Sans','Liberation Sans',sans-serif;font-stretch:condensed;font-size:9.2px;" fill="#000" textLength="32.4" lengthAdjust="spacingAndGlyphs">61.6691</text>
<g shape-rendering="crispEdges"><line x1="4" y1="570.5" x2="1597" y2="570.5" stroke="#c0c0c0" stroke-dasharray="3 3"/><line x1="4" y1="606.5" x2="1597" y2="606.5" stroke="#c0c0c0" stroke-dasharray="3 3"/></g>
<g shape-rendering="crispEdges">
<rect x="1596" y="543" width="2" height="1" fill="#000"/>
<rect x="1596" y="633" width="2" height="1" fill="#000"/>
</g>
<text x="1599.5" y="552" style="font-family:'DejaVu Sans','Liberation Sans',sans-serif;font-stretch:condensed;font-size:9.2px;" fill="#000" textLength="15" lengthAdjust="spacingAndGlyphs">100</text>
<text x="1599.5" y="574" style="font-family:'DejaVu Sans','Liberation Sans',sans-serif;font-stretch:condensed;font-size:9.2px;" fill="#000" textLength="10" lengthAdjust="spacingAndGlyphs">70</text>
<text x="1599.5" y="610" style="font-family:'DejaVu Sans','Liberation Sans',sans-serif;font-stretch:condensed;font-size:9.2px;" fill="#000" textLength="10" lengthAdjust="spacingAndGlyphs">30</text>
<text x="1599.5" y="631" style="font-family:'DejaVu Sans','Liberation Sans',sans-serif;font-stretch:condensed;font-size:9.2px;" fill="#000" textLength="5" lengthAdjust="spacingAndGlyphs">0</text>
<g clip-path="url(#cd)">
<g shape-rendering="crispEdges">
<rect x="3" y="668" width="1" height="26" fill="#c0c0c0"/>
<rect x="11" y="664" width="1" height="30" fill="#c0c0c0"/>
<rect x="19" y="659" width="1" height="35" fill="#c0c0c0"/>
<rect x="27" y="656" width="1" height="38" fill="#c0c0c0"/>
<rect x="35" y="656" width="1" height="38" fill="#c0c0c0"/>
<rect x="43" y="656" width="1" height="38" fill="#c0c0c0"/>
<rect x="51" y="655" width="1" height="39" fill="#c0c0c0"/>
<rect x="59" y="653" width="1" height="41" fill="#c0c0c0"/>
<rect x="67" y="652" width="1" height="42" fill="#c0c0c0"/>
<rect x="75" y="653" width="1" height="41" fill="#c0c0c0"/>
<rect x="83" y="654" width="1" height="40" fill="#c0c0c0"/>
<rect x="91" y="654" width="1" height="40" fill="#c0c0c0"/>
<rect x="99" y="658" width="1" height="36" fill="#c0c0c0"/>
<rect x="107" y="659" width="1" height="35" fill="#c0c0c0"/>
<rect x="115" y="657" width="1" height="37" fill="#c0c0c0"/>
<rect x="123" y="655" width="1" height="39" fill="#c0c0c0"/>
<rect x="131" y="657" width="1" height="37" fill="#c0c0c0"/>
<rect x="139" y="660" width="1" height="34" fill="#c0c0c0"/>
<rect x="147" y="662" width="1" height="32" fill="#c0c0c0"/>
<rect x="155" y="664" width="1" height="30" fill="#c0c0c0"/>
<rect x="163" y="666" width="1" height="28" fill="#c0c0c0"/>
<rect x="171" y="667" width="1" height="27" fill="#c0c0c0"/>
<rect x="179" y="669" width="1" height="25" fill="#c0c0c0"/>
<rect x="187" y="670" width="1" height="24" fill="#c0c0c0"/>
<rect x="195" y="669" width="1" height="25" fill="#c0c0c0"/>
<rect x="203" y="668" width="1" height="26" fill="#c0c0c0"/>
<rect x="211" y="667" width="1" height="27" fill="#c0c0c0"/>
<rect x="219" y="669" width="1" height="25" fill="#c0c0c0"/>
<rect x="227" y="673" width="1" height="21" fill="#c0c0c0"/>
<rect x="235" y="675" width="1" height="19" fill="#c0c0c0"/>
<rect x="243" y="677" width="1" height="17" fill="#c0c0c0"/>
<rect x="251" y="678" width="1" height="16" fill="#c0c0c0"/>
<rect x="259" y="677" width="1" height="17" fill="#c0c0c0"/>
<rect x="267" y="674" width="1" height="20" fill="#c0c0c0"/>
<rect x="275" y="668" width="1" height="26" fill="#c0c0c0"/>
<rect x="283" y="663" width="1" height="31" fill="#c0c0c0"/>
<rect x="291" y="658" width="1" height="36" fill="#c0c0c0"/>
<rect x="299" y="655" width="1" height="39" fill="#c0c0c0"/>
<rect x="307" y="656" width="1" height="38" fill="#c0c0c0"/>
<rect x="315" y="660" width="1" height="34" fill="#c0c0c0"/>
<rect x="323" y="663" width="1" height="31" fill="#c0c0c0"/>
<rect x="331" y="665" width="1" height="29" fill="#c0c0c0"/>
<rect x="339" y="667" width="1" height="27" fill="#c0c0c0"/>
<rect x="347" y="672" width="1" height="22" fill="#c0c0c0"/>
<rect x="355" y="673" width="1" height="21" fill="#c0c0c0"/>
<rect x="363" y="674" width="1" height="20" fill="#c0c0c0"/>
<rect x="371" y="676" width="1" height="18" fill="#c0c0c0"/>
<rect x="379" y="677" width="1" height="17" fill="#c0c0c0"/>
<rect x="387" y="677" width="1" height="17" fill="#c0c0c0"/>
<rect x="395" y="678" width="1" height="16" fill="#c0c0c0"/>
<rect x="403" y="676" width="1" height="18" fill="#c0c0c0"/>
<rect x="411" y="678" width="1" height="16" fill="#c0c0c0"/>
<rect x="419" y="678" width="1" height="16" fill="#c0c0c0"/>
<rect x="427" y="679" width="1" height="15" fill="#c0c0c0"/>
<rect x="435" y="684" width="1" height="10" fill="#c0c0c0"/>
<rect x="443" y="690" width="1" height="4" fill="#c0c0c0"/>
<rect x="451" y="693" width="1" height="6" fill="#c0c0c0"/>
<rect x="459" y="693" width="1" height="15" fill="#c0c0c0"/>
<rect x="467" y="693" width="1" height="24" fill="#c0c0c0"/>
<rect x="475" y="693" width="1" height="30" fill="#c0c0c0"/>
<rect x="483" y="693" width="1" height="32" fill="#c0c0c0"/>
<rect x="491" y="693" width="1" height="32" fill="#c0c0c0"/>
<rect x="499" y="693" width="1" height="28" fill="#c0c0c0"/>
<rect x="507" y="693" width="1" height="24" fill="#c0c0c0"/>
<rect x="515" y="693" width="1" height="22" fill="#c0c0c0"/>
<rect x="523" y="693" width="1" height="20" fill="#c0c0c0"/>
<rect x="531" y="693" width="1" height="17" fill="#c0c0c0"/>
<rect x="539" y="693" width="1" height="16" fill="#c0c0c0"/>
<rect x="547" y="693" width="1" height="16" fill="#c0c0c0"/>
<rect x="555" y="693" width="1" height="14" fill="#c0c0c0"/>
<rect x="563" y="693" width="1" height="9" fill="#c0c0c0"/>
<rect x="571" y="693" width="1" height="5" fill="#c0c0c0"/>
<rect x="579" y="693" width="1" height="3" fill="#c0c0c0"/>
<rect x="587" y="693" width="1" height="4" fill="#c0c0c0"/>
<rect x="595" y="693" width="1" height="4" fill="#c0c0c0"/>
<rect x="603" y="693" width="1" height="8" fill="#c0c0c0"/>
<rect x="611" y="693" width="1" height="12" fill="#c0c0c0"/>
<rect x="619" y="693" width="1" height="14" fill="#c0c0c0"/>
<rect x="627" y="693" width="1" height="16" fill="#c0c0c0"/>
<rect x="635" y="693" width="1" height="19" fill="#c0c0c0"/>
<rect x="643" y="693" width="1" height="17" fill="#c0c0c0"/>
<rect x="651" y="693" width="1" height="17" fill="#c0c0c0"/>
<rect x="659" y="693" width="1" height="14" fill="#c0c0c0"/>
<rect x="667" y="693" width="1" height="14" fill="#c0c0c0"/>
<rect x="675" y="693" width="1" height="13" fill="#c0c0c0"/>
<rect x="683" y="693" width="1" height="11" fill="#c0c0c0"/>
<rect x="691" y="693" width="1" height="13" fill="#c0c0c0"/>
<rect x="699" y="693" width="1" height="18" fill="#c0c0c0"/>
<rect x="707" y="693" width="1" height="20" fill="#c0c0c0"/>
<rect x="715" y="693" width="1" height="22" fill="#c0c0c0"/>
<rect x="723" y="693" width="1" height="22" fill="#c0c0c0"/>
<rect x="731" y="693" width="1" height="14" fill="#c0c0c0"/>
<rect x="739" y="693" width="1" height="11" fill="#c0c0c0"/>
<rect x="747" y="693" width="1" height="2" fill="#c0c0c0"/>
<rect x="755" y="687" width="1" height="7" fill="#c0c0c0"/>
<rect x="763" y="682" width="1" height="12" fill="#c0c0c0"/>
<rect x="771" y="676" width="1" height="18" fill="#c0c0c0"/>
<rect x="779" y="673" width="1" height="21" fill="#c0c0c0"/>
<rect x="787" y="671" width="1" height="23" fill="#c0c0c0"/>
<rect x="795" y="670" width="1" height="24" fill="#c0c0c0"/>
<rect x="803" y="671" width="1" height="23" fill="#c0c0c0"/>
<rect x="811" y="670" width="1" height="24" fill="#c0c0c0"/>
<rect x="819" y="667" width="1" height="27" fill="#c0c0c0"/>
<rect x="827" y="666" width="1" height="28" fill="#c0c0c0"/>
<rect x="835" y="665" width="1" height="29" fill="#c0c0c0"/>
<rect x="843" y="666" width="1" height="28" fill="#c0c0c0"/>
<rect x="851" y="667" width="1" height="27" fill="#c0c0c0"/>
<rect x="859" y="667" width="1" height="27" fill="#c0c0c0"/>
<rect x="867" y="668" width="1" height="26" fill="#c0c0c0"/>
<rect x="875" y="666" width="1" height="28" fill="#c0c0c0"/>
<rect x="883" y="665" width="1" height="29" fill="#c0c0c0"/>
<rect x="891" y="664" width="1" height="30" fill="#c0c0c0"/>
<rect x="899" y="662" width="1" height="32" fill="#c0c0c0"/>
<rect x="907" y="661" width="1" height="33" fill="#c0c0c0"/>
<rect x="915" y="662" width="1" height="32" fill="#c0c0c0"/>
<rect x="923" y="663" width="1" height="31" fill="#c0c0c0"/>
<rect x="931" y="663" width="1" height="31" fill="#c0c0c0"/>
<rect x="939" y="660" width="1" height="34" fill="#c0c0c0"/>
<rect x="947" y="660" width="1" height="34" fill="#c0c0c0"/>
<rect x="955" y="659" width="1" height="35" fill="#c0c0c0"/>
<rect x="963" y="658" width="1" height="36" fill="#c0c0c0"/>
<rect x="971" y="661" width="1" height="33" fill="#c0c0c0"/>
<rect x="979" y="659" width="1" height="35" fill="#c0c0c0"/>
<rect x="987" y="656" width="1" height="38" fill="#c0c0c0"/>
<rect x="995" y="653" width="1" height="41" fill="#c0c0c0"/>
<rect x="1003" y="652" width="1" height="42" fill="#c0c0c0"/>
<rect x="1011" y="651" width="1" height="43" fill="#c0c0c0"/>
<rect x="1019" y="650" width="1" height="44" fill="#c0c0c0"/>
<rect x="1027" y="649" width="1" height="45" fill="#c0c0c0"/>
<rect x="1035" y="646" width="1" height="48" fill="#c0c0c0"/>
<rect x="1043" y="645" width="1" height="49" fill="#c0c0c0"/>
<rect x="1051" y="644" width="1" height="50" fill="#c0c0c0"/>
<rect x="1059" y="648" width="1" height="46" fill="#c0c0c0"/>
<rect x="1067" y="651" width="1" height="43" fill="#c0c0c0"/>
<rect x="1075" y="653" width="1" height="41" fill="#c0c0c0"/>
<rect x="1083" y="653" width="1" height="41" fill="#c0c0c0"/>
<rect x="1091" y="654" width="1" height="40" fill="#c0c0c0"/>
<rect x="1099" y="657" width="1" height="37" fill="#c0c0c0"/>
<rect x="1107" y="657" width="1" height="37" fill="#c0c0c0"/>
<rect x="1115" y="654" width="1" height="40" fill="#c0c0c0"/>
<rect x="1123" y="650" width="1" height="44" fill="#c0c0c0"/>
<rect x="1131" y="649" width="1" height="45" fill="#c0c0c0"/>
<rect x="1139" y="649" width="1" height="45" fill="#c0c0c0"/>
<rect x="1147" y="648" width="1" height="46" fill="#c0c0c0"/>
<rect x="1155" y="645" width="1" height="49" fill="#c0c0c0"/>
<rect x="1163" y="644" width="1" height="50" fill="#c0c0c0"/>
<rect x="1171" y="643" width="1" height="51" fill="#c0c0c0"/>
<rect x="1179" y="644" width="1" height="50" fill="#c0c0c0"/>
<rect x="1187" y="648" width="1" height="46" fill="#c0c0c0"/>
<rect x="1195" y="650" width="1" height="44" fill="#c0c0c0"/>
<rect x="1203" y="651" width="1" height="43" fill="#c0c0c0"/>
<rect x="1211" y="652" width="1" height="42" fill="#c0c0c0"/>
<rect x="1219" y="656" width="1" height="38" fill="#c0c0c0"/>
<rect x="1227" y="659" width="1" height="35" fill="#c0c0c0"/>
<rect x="1235" y="663" width="1" height="31" fill="#c0c0c0"/>
<rect x="1243" y="666" width="1" height="28" fill="#c0c0c0"/>
<rect x="1251" y="666" width="1" height="28" fill="#c0c0c0"/>
<rect x="1259" y="665" width="1" height="29" fill="#c0c0c0"/>
</g>
<polyline points="3.5,667.5 19.5,666.5 35.5,663.5 51.5,661.5 67.5,658.5 83.5,655.5 91.5,654.5 99.5,654.5 115.5,655.5 131.5,655.5 139.5,655.5 147.5,656.5 163.5,658.5 179.5,661.5 195.5,664.5 211.5,666.5 227.5,668.5 243.5,670.5 259.5,671.5 275.5,672.5 283.5,672.5 291.5,671.5 299.5,669.5 307.5,666.5 323.5,663.5 331.5,661.5 347.5,661.5 355.5,662.5 363.5,664.5 371.5,665.5 379.5,668.5 387.5,671.5 403.5,673.5 411.5,674.5 427.5,676.5 443.5,677.5 451.5,680.5 459.5,684.5 467.5,688.5 475.5,695.5 483.5,700.5 491.5,706.5 499.5,711.5 507.5,714.5 515.5,717.5 523.5,717.5 539.5,717.5 547.5,716.5 555.5,714.5 563.5,711.5 571.5,708.5 579.5,706.5 587.5,705.5 595.5,703.5 603.5,701.5 611.5,701.5 619.5,701.5 627.5,701.5 635.5,702.5 643.5,703.5 651.5,704.5 659.5,706.5 667.5,707.5 683.5,707.5 699.5,707.5 707.5,708.5 723.5,708.5 739.5,708.5 747.5,707.5 755.5,705.5 763.5,703.5 771.5,700.5 779.5,696.5 787.5,690.5 795.5,684.5 803.5,680.5 811.5,677.5 819.5,674.5 827.5,671.5 835.5,669.5 843.5,668.5 851.5,667.5 859.5,667.5 867.5,666.5 875.5,666.5 883.5,666.5 891.5,666.5 899.5,665.5 907.5,665.5 915.5,664.5 923.5,664.5 931.5,663.5 939.5,662.5 947.5,662.5 955.5,661.5 963.5,660.5 971.5,660.5 979.5,660.5 987.5,659.5 995.5,658.5 1003.5,657.5 1011.5,656.5 1019.5,654.5 1027.5,653.5 1035.5,652.5 1043.5,650.5 1051.5,649.5 1059.5,648.5 1067.5,648.5 1075.5,648.5 1083.5,648.5 1091.5,648.5 1099.5,649.5 1107.5,650.5 1115.5,651.5 1123.5,652.5 1131.5,652.5 1139.5,652.5 1147.5,652.5 1155.5,650.5 1163.5,649.5 1171.5,648.5 1179.5,646.5 1187.5,646.5 1195.5,646.5 1203.5,646.5 1211.5,646.5 1219.5,647.5 1227.5,649.5 1235.5,651.5 1243.5,654.5 1251.5,656.5 1259.5,658.5" fill="none" stroke="#ff0000" stroke-width="1" stroke-dasharray="3 3" shape-rendering="crispEdges"/>
</g>
<text x="7.3" y="649.5" style="font-family:'DejaVu Sans','Liberation Sans',sans-serif;font-stretch:condensed;font-size:9.2px;" fill="#000" textLength="65.5" lengthAdjust="spacingAndGlyphs">MACD(12,26,9)</text>
<text x="76.4" y="649.5" style="font-family:'DejaVu Sans','Liberation Sans',sans-serif;font-stretch:condensed;font-size:9.2px;" fill="#000" textLength="37" lengthAdjust="spacingAndGlyphs">0.004543</text>
<text x="117" y="649.5" style="font-family:'DejaVu Sans','Liberation Sans',sans-serif;font-stretch:condensed;font-size:9.2px;" fill="#000" textLength="38" lengthAdjust="spacingAndGlyphs">0.005637</text>
<g shape-rendering="crispEdges">
<rect x="1596" y="637" width="2" height="1" fill="#000"/>
<rect x="1596" y="693" width="1" height="1" fill="#000"/>
<rect x="1596" y="729" width="2" height="1" fill="#000"/>
</g>
<text x="1599" y="647" style="font-family:'DejaVu Sans','Liberation Sans',sans-serif;font-stretch:condensed;font-size:9.2px;" fill="#000" textLength="33.5" lengthAdjust="spacingAndGlyphs">0.00884</text>
<text x="1599.5" y="697" style="font-family:'DejaVu Sans','Liberation Sans',sans-serif;font-stretch:condensed;font-size:9.2px;" fill="#000" textLength="19" lengthAdjust="spacingAndGlyphs">0.00</text>
<text x="1599" y="726" style="font-family:'DejaVu Sans','Liberation Sans',sans-serif;font-stretch:condensed;font-size:9.2px;" fill="#000" textLength="37" lengthAdjust="spacingAndGlyphs">-0.00565</text>
<g shape-rendering="crispEdges">
<rect x="3" y="730" width="1" height="3" fill="#000"/>
<rect x="67" y="730" width="1" height="3" fill="#000"/>
<rect x="131" y="730" width="1" height="3" fill="#000"/>
<rect x="195" y="730" width="1" height="3" fill="#000"/>
<rect x="259" y="730" width="1" height="3" fill="#000"/>
<rect x="323" y="730" width="1" height="3" fill="#000"/>
<rect x="387" y="730" width="1" height="3" fill="#000"/>
<rect x="451" y="730" width="1" height="3" fill="#000"/>
<rect x="515" y="730" width="1" height="3" fill="#000"/>
<rect x="579" y="730" width="1" height="3" fill="#000"/>
<rect x="643" y="730" width="1" height="3" fill="#000"/>
<rect x="707" y="730" width="1" height="3" fill="#000"/>
<rect x="771" y="730" width="1" height="3" fill="#000"/>
<rect x="835" y="730" width="1" height="3" fill="#000"/>
<rect x="899" y="730" width="1" height="3" fill="#000"/>
<rect x="963" y="730" width="1" height="3" fill="#000"/>
<rect x="1027" y="730" width="1" height="3" fill="#000"/>
<rect x="1091" y="730" width="1" height="3" fill="#000"/>
<rect x="1155" y="730" width="1" height="3" fill="#000"/>
<rect x="1219" y="730" width="1" height="3" fill="#000"/>
</g>
<text x="2.4" y="742" style="font-family:'DejaVu Sans','Liberation Sans',sans-serif;font-stretch:condensed;font-size:9.4px" fill="#000" textLength="46.0" lengthAdjust="spacingAndGlyphs">20 Jul 2020</text>
<text x="66.4" y="742" style="font-family:'DejaVu Sans','Liberation Sans',sans-serif;font-stretch:condensed;font-size:9.4px" fill="#000" textLength="46.0" lengthAdjust="spacingAndGlyphs">29 Jul 2020</text>
<text x="130.4" y="742" style="font-family:'DejaVu Sans','Liberation Sans',sans-serif;font-stretch:condensed;font-size:9.4px" fill="#000" textLength="47.0" lengthAdjust="spacingAndGlyphs">7 Aug 2020</text>
<text x="194.4" y="742" style="font-family:'DejaVu Sans','Liberation Sans',sans-serif;font-stretch:condensed;font-size:9.4px" fill="#000" textLength="52.1" lengthAdjust="spacingAndGlyphs">17 Aug 2020</text>
<text x="258.4" y="742" style="font-family:'DejaVu Sans','Liberation Sans',sans-serif;font-stretch:condensed;font-size:9.4px" fill="#000" textLength="52.1" lengthAdjust="spacingAndGlyphs">26 Aug 2020</text>
<text x="322.4" y="742" style="font-family:'DejaVu Sans','Liberation Sans',sans-serif;font-stretch:condensed;font-size:9.4px" fill="#000" textLength="46.4" lengthAdjust="spacingAndGlyphs">4 Sep 2020</text>
<text x="386.4" y="742" style="font-family:'DejaVu Sans','Liberation Sans',sans-serif;font-stretch:condensed;font-size:9.4px" fill="#000" textLength="51.6" lengthAdjust="spacingAndGlyphs">14 Sep 2020</text>
<text x="450.4" y="742" style="font-family:'DejaVu Sans','Liberation Sans',sans-serif;font-stretch:condensed;font-size:9.4px" fill="#000" textLength="51.6" lengthAdjust="spacingAndGlyphs">23 Sep 2020</text>
<text x="514.4" y="742" style="font-family:'DejaVu Sans','Liberation Sans',sans-serif;font-stretch:condensed;font-size:9.4px" fill="#000" textLength="45.2" lengthAdjust="spacingAndGlyphs">2 Oct 2020</text>
<text x="578.4" y="742" style="font-family:'DejaVu Sans','Liberation Sans',sans-serif;font-stretch:condensed;font-size:9.4px" fill="#000" textLength="50.3" lengthAdjust="spacingAndGlyphs">12 Oct 2020</text>
<text x="642.4" y="742" style="font-family:'DejaVu Sans','Liberation Sans',sans-serif;font-stretch:condensed;font-size:9.4px" fill="#000" textLength="50.3" lengthAdjust="spacingAndGlyphs">21 Oct 2020</text>
<text x="706.4" y="742" style="font-family:'DejaVu Sans','Liberation Sans',sans-serif;font-stretch:condensed;font-size:9.4px" fill="#000" textLength="50.3" lengthAdjust="spacingAndGlyphs">30 Oct 2020</text>
<text x="770.4" y="742" style="font-family:'DejaVu Sans','Liberation Sans',sans-serif;font-stretch:condensed;font-size:9.4px" fill="#000" textLength="47.0" lengthAdjust="spacingAndGlyphs">9 Nov 2020</text>
<text x="834.4" y="742" style="font-family:'DejaVu Sans','Liberation Sans',sans-serif;font-stretch:condensed;font-size:9.4px" fill="#000" textLength="52.1" lengthAdjust="spacingAndGlyphs">18 Nov 2020</text>
<text x="898.4" y="742" style="font-family:'DejaVu Sans','Liberation Sans',sans-serif;font-stretch:condensed;font-size:9.4px" fill="#000" textLength="52.1" lengthAdjust="spacingAndGlyphs">27 Nov 2020</text>
<text x="962.4" y="742" style="font-family:'DejaVu Sans','Liberation Sans',sans-serif;font-stretch:condensed;font-size:9.4px" fill="#000" textLength="46.8" lengthAdjust="spacingAndGlyphs">7 Dec 2020</text>
<text x="1026.4" y="742" style="font-family:'DejaVu Sans','Liberation Sans',sans-serif;font-stretch:condensed;font-size:9.4px" fill="#000" textLength="52.0" lengthAdjust="spacingAndGlyphs">16 Dec 2020</text>
<text x="1090.4" y="742" style="font-family:'DejaVu Sans','Liberation Sans',sans-serif;font-stretch:condensed;font-size:9.4px" fill="#000" textLength="52.0" lengthAdjust="spacingAndGlyphs">25 Dec 2020</text>
<text x="1154.4" y="742" style="font-family:'DejaVu Sans','Liberation Sans',sans-serif;font-stretch:condensed;font-size:9.4px" fill="#000" textLength="43.6" lengthAdjust="spacingAndGlyphs">6 Jan 2021</text>
<text x="1218.4" y="742" style="font-family:'DejaVu Sans','Liberation Sans',sans-serif;font-stretch:condensed;font-size:9.4px" fill="#000" textLength="48.8" lengthAdjust="spacingAndGlyphs">15 Jan 2021</text>
<g shape-rendering="crispEdges">
<rect x="0" y="750" width="1635" height="1" fill="#e3e3e3"/>
<rect x="0" y="751" width="1635" height="28" fill="#f0f0f0"/>
<rect x="0" y="752" width="1635" height="1" fill="#000"/>
<rect x="0" y="753" width="1635" height="1" fill="#ffffff"/>
<rect x="0" y="772" width="1635" height="1" fill="#fafafa"/>
<rect x="0" y="776" width="1635" height="1" fill="#a0a0a0"/>
<rect x="0" y="777" width="1635" height="2" fill="#fcfcfc"/>
<rect x="208" y="752" width="104" height="19" fill="#000"/><rect x="209" y="752" width="102" height="18" fill="#fff"/>
<rect x="108" y="755" width="1" height="14" fill="#505050"/>
<rect x="416" y="755" width="1" height="14" fill="#505050"/>
<rect x="520" y="755" width="1" height="14" fill="#505050"/>
<rect x="624" y="755" width="1" height="14" fill="#505050"/>
<rect x="716" y="755" width="1" height="14" fill="#505050"/>
<rect x="808" y="755" width="1" height="14" fill="#505050"/>
<rect x="881" y="755" width="1" height="14" fill="#505050"/>
<rect x="960" y="755" width="1" height="14" fill="#505050"/>
<rect x="1040" y="755" width="1" height="14" fill="#505050"/>
<rect x="1120" y="755" width="1" height="14" fill="#505050"/>
<rect x="1197" y="755" width="1" height="14" fill="#505050"/>
<rect x="1296" y="755" width="1" height="14" fill="#505050"/>
<rect x="1380" y="755" width="1" height="14" fill="#505050"/>
<rect x="1460" y="755" width="1" height="14" fill="#505050"/>
<rect x="1560" y="755" width="1" height="14" fill="#505050"/>
<rect x="187" y="777" width="1" height="2" fill="#e4e4e4"/>
<rect x="317" y="777" width="1" height="2" fill="#e4e4e4"/>
<rect x="418" y="777" width="1" height="2" fill="#e4e4e4"/>
<rect x="548" y="777" width="1" height="2" fill="#e4e4e4"/>
<rect x="693" y="777" width="1" height="2" fill="#e4e4e4"/>
<rect x="838" y="777" width="1" height="2" fill="#e4e4e4"/>
<rect x="984" y="777" width="1" height="2" fill="#e4e4e4"/>
<rect x="1129" y="777" width="1" height="2" fill="#e4e4e4"/>
<rect x="1274" y="777" width="1" height="2" fill="#e4e4e4"/>
</g>
<text x="16" y="766.7" style="font-family:'DejaVu Sans','Liberation Sans',sans-serif;font-size:11.5px;" fill="#606060" textLength="80" lengthAdjust="spacingAndGlyphs">EURUSD,Daily</text>
<text x="118" y="766.7" style="font-family:'DejaVu Sans','Liberation Sans',sans-serif;font-size:11.5px;" fill="#606060" textLength="80" lengthAdjust="spacingAndGlyphs">USDCHF,Daily</text>
<text x="219.6" y="766.7" style="font-family:'DejaVu Sans','Liberation Sans',sans-serif;font-size:11.5px;" fill="#000" textLength="81.2" lengthAdjust="spacingAndGlyphs">AUDUSD,Daily</text>
<text x="323.9" y="766.7" style="font-family:'DejaVu Sans','Liberation Sans',sans-serif;font-size:11.5px;" fill="#606060" textLength="80.4" lengthAdjust="spacingAndGlyphs">USDCAD,Daily</text>
<text x="426.6" y="766.7" style="font-family:'DejaVu Sans','Liberation Sans',sans-serif;font-size:11.5px;" fill="#606060" textLength="82.4" lengthAdjust="spacingAndGlyphs">USDCNH,Daily</text>
<text x="532.2" y="766.7" style="font-family:'DejaVu Sans','Liberation Sans',sans-serif;font-size:11.5px;" fill="#606060" textLength="80.1" lengthAdjust="spacingAndGlyphs">EURUSD,Daily</text>
<text x="636.2" y="766.7" style="font-family:'DejaVu Sans','Liberation Sans',sans-serif;font-size:11.5px;" fill="#606060" textLength="67.8" lengthAdjust="spacingAndGlyphs">GBPUSD,H4</text>
<text x="726.8" y="766.7" style="font-family:'DejaVu Sans','Liberation Sans',sans-serif;font-size:11.5px;" fill="#606060" textLength="69.4" lengthAdjust="spacingAndGlyphs">XAUUSD,H4</text>
<text x="819.7" y="766.7" style="font-family:'DejaVu Sans','Liberation Sans',sans-serif;font-size:11.5px;" fill="#606060" textLength="48.7" lengthAdjust="spacingAndGlyphs">HK50,H1</text>
<text x="891.6" y="766.7" style="font-family:'DejaVu Sans','Liberation Sans',sans-serif;font-size:11.5px;" fill="#606060" textLength="56.3" lengthAdjust="spacingAndGlyphs">UK100,H1</text>
<text x="971.8" y="766.7" style="font-family:'DejaVu Sans','Liberation Sans',sans-serif;font-size:11.5px;" fill="#606060" textLength="56.2" lengthAdjust="spacingAndGlyphs">UK100,H1</text>
<text x="1051.3" y="766.7" style="font-family:'DejaVu Sans','Liberation Sans',sans-serif;font-size:11.5px;" fill="#606060" textLength="56.6" lengthAdjust="spacingAndGlyphs">GER30,H1</text>
<text x="1130.8" y="766.7" style="font-family:'DejaVu Sans','Liberation Sans',sans-serif;font-size:11.5px;" fill="#606060" textLength="54.1" lengthAdjust="spacingAndGlyphs">FRA40,H1</text>
<text x="1207.8" y="766.7" style="font-family:'DejaVu Sans','Liberation Sans',sans-serif;font-size:11.5px;" fill="#606060" textLength="76.3" lengthAdjust="spacingAndGlyphs">USOil,Weekly</text>
<text x="1306" y="766.7" style="font-family:'DejaVu Sans','Liberation Sans',sans-serif;font-size:11.5px;" fill="#606060" textLength="63" lengthAdjust="spacingAndGlyphs">USDJPY,H1</text>
<text x="1390.7" y="766.7" style="font-family:'DejaVu Sans','Liberation Sans',sans-serif;font-size:11.5px;" fill="#606060" textLength="58.3" lengthAdjust="spacingAndGlyphs">DJ30,Daily</text>
<text x="1470.6" y="766.7" style="font-family:'DejaVu Sans','Liberation Sans',sans-serif;font-size:11.5px;" fill="#606060" textLength="78.2" lengthAdjust="spacingAndGlyphs">CHINA300,H1</text>
<svg x="1560" y="750" width="45" height="26"><text x="10.5" y="16.7" style="font-family:'DejaVu Sans','Liberation Sans',sans-serif;font-size:11.5px;" fill="#606060" textLength="76.3" lengthAdjust="spacingAndGlyphs">USOil,Weekly</text></svg>
<rect x="1605" y="753" width="30" height="19" fill="#f0f0f0" shape-rendering="crispEdges"/>
<path d="M1614,758 L1610.5,761.5 L1614,765 Z" fill="#a0a0a0"/>
<path d="M1629.5,758 L1633,761.5 L1629.5,765 Z" fill="#000"/>
</svg>
</body></html>
